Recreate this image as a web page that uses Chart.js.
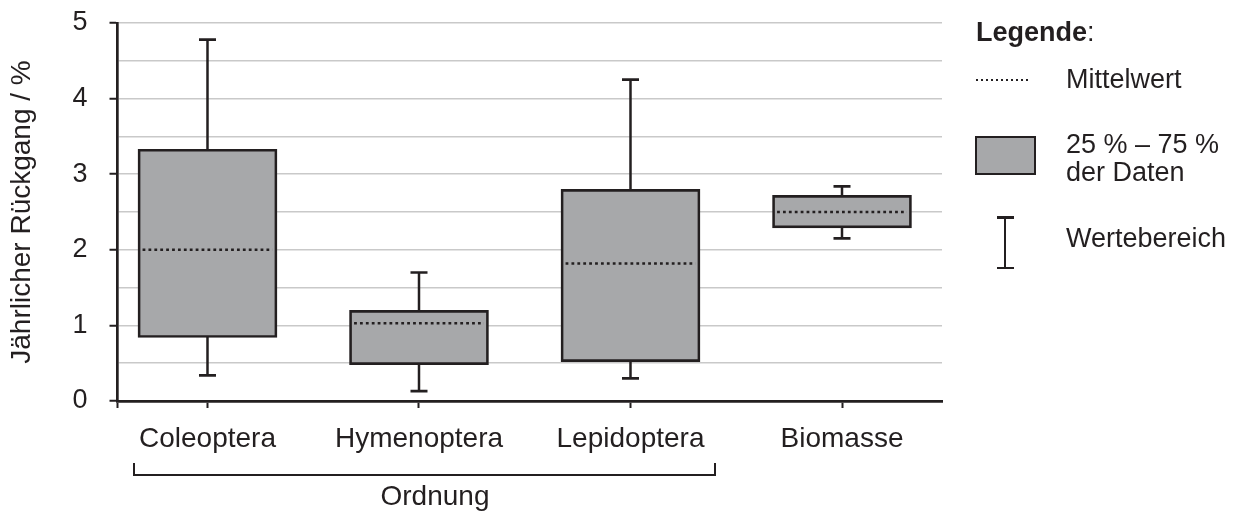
<!DOCTYPE html>
<html lang="de">
<head>
<meta charset="utf-8">
<title>Jährlicher Rückgang</title>
<script src="https://cdn.jsdelivr.net/npm/chart.js@4.4.1/dist/chart.umd.min.js"></script>
<style>
  html, body { margin: 0; padding: 0; background: #fff; }
  #wrap {
    position: relative; width: 1250px; height: 513px; overflow: hidden;
    font-family: "Liberation Sans", Arial, sans-serif; color: #231f20;
  }
  #chartBox { position: absolute; left: 0; top: 0; width: 1250px; height: 513px; }
  .txt { position: absolute; white-space: nowrap; }
  .lg { font-size: 27px; line-height: 27px; }
  .mean-key {
    position: absolute; left: 976px; top: 79px; width: 55px; height: 2px;
    background: repeating-linear-gradient(to right, #231f20 0 2px, transparent 2px 5px);
  }
  .box-key {
    position: absolute; left: 975px; top: 135.5px; width: 61px; height: 39px;
    box-sizing: border-box; border: 2.7px solid #231f20; background: #a7a8aa;
  }
  .range-key { position: absolute; background: #231f20; }
  .bracket {
    position: absolute; left: 132.5px; top: 463px; width: 583px; height: 12.5px;
    box-sizing: border-box; border: 2.5px solid #231f20; border-top: none;
  }
</style>
</head>
<body>
<div id="wrap">
  <div id="chartBox"><canvas id="chart"></canvas></div>

  <!-- Legende -->
  <div class="txt lg" style="left:976px; top:18.8px;"><b>Legende</b>:</div>
  <div class="mean-key"></div>
  <div class="txt lg" style="left:1066px; top:66.4px;">Mittelwert</div>
  <div class="box-key"></div>
  <div class="txt" style="left:1066px; top:130px; font-size:27px; line-height:28px;">25 % – 75 %<br>der Daten</div>
  <div class="range-key" style="left:1003.75px; top:217px; width:2.5px; height:51px;"></div>
  <div class="range-key" style="left:996.5px; top:216px; width:17px; height:2.5px;"></div>
  <div class="range-key" style="left:996.5px; top:266.5px; width:17px; height:2.5px;"></div>
  <div class="txt lg" style="left:1066px; top:225.4px;">Wertebereich</div>

  <!-- Klammer unter den Ordnungen -->
  <div class="bracket"></div>
  <div class="txt" style="left:335px; width:200px; text-align:center; top:482px; font-size:28px; line-height:28px;">Ordnung</div>
</div>

<script>
// Werte
const categories = ['Coleoptera', 'Hymenoptera', 'Lepidoptera', 'Biomasse'];
const minValues  = [0.34, 0.13, 0.30, 2.15];
const q1Values   = [0.84, 0.48, 0.52, 2.29];
const meanValues = [2.00, 1.03, 1.82, 2.50];
const q3Values   = [3.33, 1.20, 2.80, 2.72];
const maxValues  = [4.78, 1.70, 4.25, 2.84];
const yTickLabels = [0, 1, 2, 3, 4, 5];

const DARK = '#231f20';
const BOX_FILL = '#a7a8aa';
const GRID = '#c9c9c9';
const MEAN_HALF = 0.307;   // halbe Länge der Mittelwert-Linie in x-Einheiten

Chart.defaults.font.family = "'Liberation Sans', Arial, sans-serif";
Chart.defaults.color = DARK;

// Datensätze aufbauen
const boxData = categories.map((c, i) => ({ x: i, y: [q1Values[i], q3Values[i]] }));
const whiskerData = [];
const meanData = [];
categories.forEach((c, i) => {
    whiskerData.push({ x: i, y: minValues[i] }, { x: i, y: maxValues[i] }, { x: i, y: null });
    meanData.push({ x: i - MEAN_HALF, y: meanValues[i] }, { x: i + MEAN_HALF, y: meanValues[i] }, { x: i, y: null });
});

new Chart(document.getElementById('chart'), {
    type: 'bar',
    data: {
        datasets: [
            {
                type: 'line',
                label: 'Mittelwert',
                data: meanData,
                order: 0,
                borderColor: DARK,
                borderWidth: 2.5,
                borderDash: [2.8, 3.1],
                borderCapStyle: 'butt',
                pointRadius: 0,
                spanGaps: false,
                fill: false
            },
            {
                type: 'bar',
                label: '25 % – 75 % der Daten',
                data: boxData,
                order: 1,
                backgroundColor: BOX_FILL,
                borderColor: DARK,
                borderWidth: 2.7,
                borderSkipped: false,
                barThickness: 139,
                grouped: false
            },
            {
                type: 'line',
                label: 'Wertebereich',
                data: whiskerData,
                order: 2,
                borderColor: DARK,
                borderWidth: 2.5,
                borderCapStyle: 'butt',
                pointStyle: 'line',
                pointRadius: 8.5,
                pointBorderWidth: 2.7,
                pointBorderColor: DARK,
                spanGaps: false,
                fill: false
            }
        ]
    },
    options: {
        responsive: true,
        maintainAspectRatio: false,
        animation: false,
        events: [],
        layout: { padding: { left: 0, top: 23, right: 308, bottom: 0 } },
        plugins: {
            legend: { display: false },
            tooltip: { enabled: false }
        },
        scales: {
            x: {
                type: 'linear',
                min: -0.4255,
                max: 3.4728,
                bounds: 'data',
                offset: false,
                afterBuildTicks: (s) => {
                    s.ticks = [{ value: s.min }].concat(categories.map((c, i) => ({ value: i })));
                },
                afterFit: (s) => {
                    s.height = 112;
                    s.paddingLeft = 0;
                    s.paddingRight = 0;
                },
                border: { display: true, color: DARK, width: 2.7 },
                grid: {
                    offset: false,
                    drawOnChartArea: false,
                    drawTicks: true,
                    tickLength: 7,
                    tickColor: DARK,
                    tickWidth: 2
                },
                ticks: {
                    autoSkip: false,
                    maxRotation: 0,
                    padding: 14.5,
                    color: DARK,
                    font: { size: 28 },
                    callback: (v) => categories[v] ?? ''
                }
            },
            y: {
                min: 0,
                max: 5,
                afterFit: (s) => {
                    s.width = 117.5;
                    s.paddingTop = 0;
                    s.paddingBottom = 0;
                },
                border: { display: true, color: DARK, width: 2.7 },
                grid: {
                    color: (c) => (c.tick && c.tick.value === 0) ? 'rgba(0,0,0,0)' : GRID,
                    lineWidth: 1.5,
                    tickLength: 8,
                    tickWidth: 2,
                    tickColor: (c) => (c.tick && yTickLabels.includes(c.tick.value)) ? DARK : 'rgba(0,0,0,0)'
                },
                ticks: {
                    stepSize: 0.5,
                    autoSkip: false,
                    padding: 22,
                    color: DARK,
                    font: { size: 27 },
                    callback: (v) => yTickLabels.includes(v) ? String(v) : ''
                },
                title: {
                    display: true,
                    text: 'Jährlicher Rückgang / %',
                    color: DARK,
                    font: { size: 28 },
                    padding: { top: 5, bottom: 0 }
                }
            }
        }
    }
});
</script>
</body>
</html>
